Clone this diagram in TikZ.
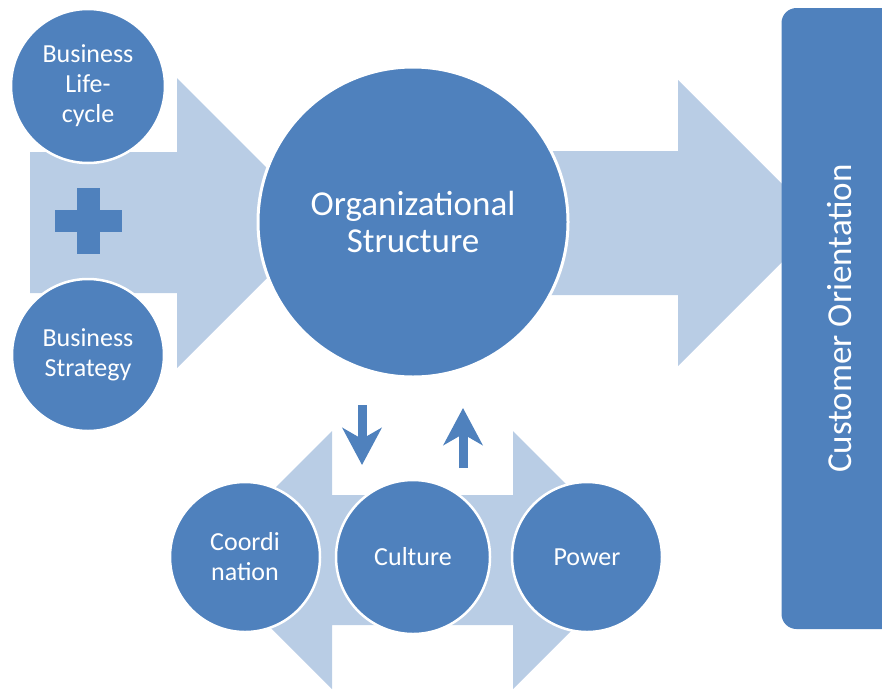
\documentclass[tikz,border=0pt]{standalone}
\usepackage{fontspec}
\setmainfont{Carlito}
\usepackage{tikz}
\usepackage{xcolor}
\usetikzlibrary{arrows.meta}

\definecolor{orgblue}{HTML}{4F81BD}
\definecolor{orglight}{HTML}{B9CDE5}

\begin{document}
\begin{tikzpicture}[x=1pt,y=-1pt,
    bubble/.style={circle,fill=orgblue,draw=white,line width=2.5pt,text=white,
      align=center,inner sep=0pt,font=\fontsize{26}{30}\selectfont},
    bigfont/.style={font=\fontsize{35}{37}\selectfont},
    block/.style={fill=orglight},
    updown/.style={orgblue,line width=9pt,-{Stealth[length=37pt,width=39pt,inset=11pt]}}]
  \useasboundingbox (0,0) rectangle (882,691);

  % input arrow
  \fill[block] (30,152) -- (177,152) -- (177,78) -- (322,223) -- (177,368)
    -- (177,293) -- (30,293) -- cycle;

  % inputs
  \node[bubble,minimum size=154pt] (lifecycle) at (88,86) {Business\\Life-\\cycle};
  \node[bubble,minimum size=152pt] (strategy) at (88,355) {Business\\Strategy};

  % plus sign
  \fill[orgblue] (77,188) rectangle (100,254);
  \fill[orgblue] (55,210) rectangle (122,232);

  % output arrow
  \fill[block] (480,151) -- (678,151) -- (678,80) -- (821,223) -- (678,366)
    -- (678,295) -- (480,295) -- cycle;

  % centre
  \node[bubble,bigfont,minimum size=310pt,line width=3pt] (org) at (413,222)
    {Organizational\\Structure};

  % customer bar
  \begin{scope}
    \clip (0,0) rectangle (882,691);
    \node[fill=orgblue,rounded corners=15pt,rotate=90,text=white,bigfont,
      minimum width=621pt,minimum height=117pt] (cust) at (840,318.5)
      {Customer Orientation};
  \end{scope}

  % left-right arrow under the factors
  \fill[block] (332,495) -- (332,431) -- (203,560) -- (332,689) -- (332,625)
    -- (513,625) -- (513,689) -- (642,560) -- (513,431) -- (513,495) -- cycle;

  % factors
  \node[bubble,minimum size=150pt] (coord) at (245,557) {Coordi\\nation};
  \node[bubble,minimum size=154pt] (culture) at (413,557) {Culture};
  \node[bubble,minimum size=150pt] (power) at (587,557) {Power};

  % influence arrows
  \coordinate (down1) at (362,405);
  \coordinate (down2) at (362,465);
  \coordinate (up1) at (463,468);
  \coordinate (up2) at (463,408);
  \draw[updown] (down1) -- (down2);
  \draw[updown] (up1) -- (up2);

\end{tikzpicture}
\end{document}
